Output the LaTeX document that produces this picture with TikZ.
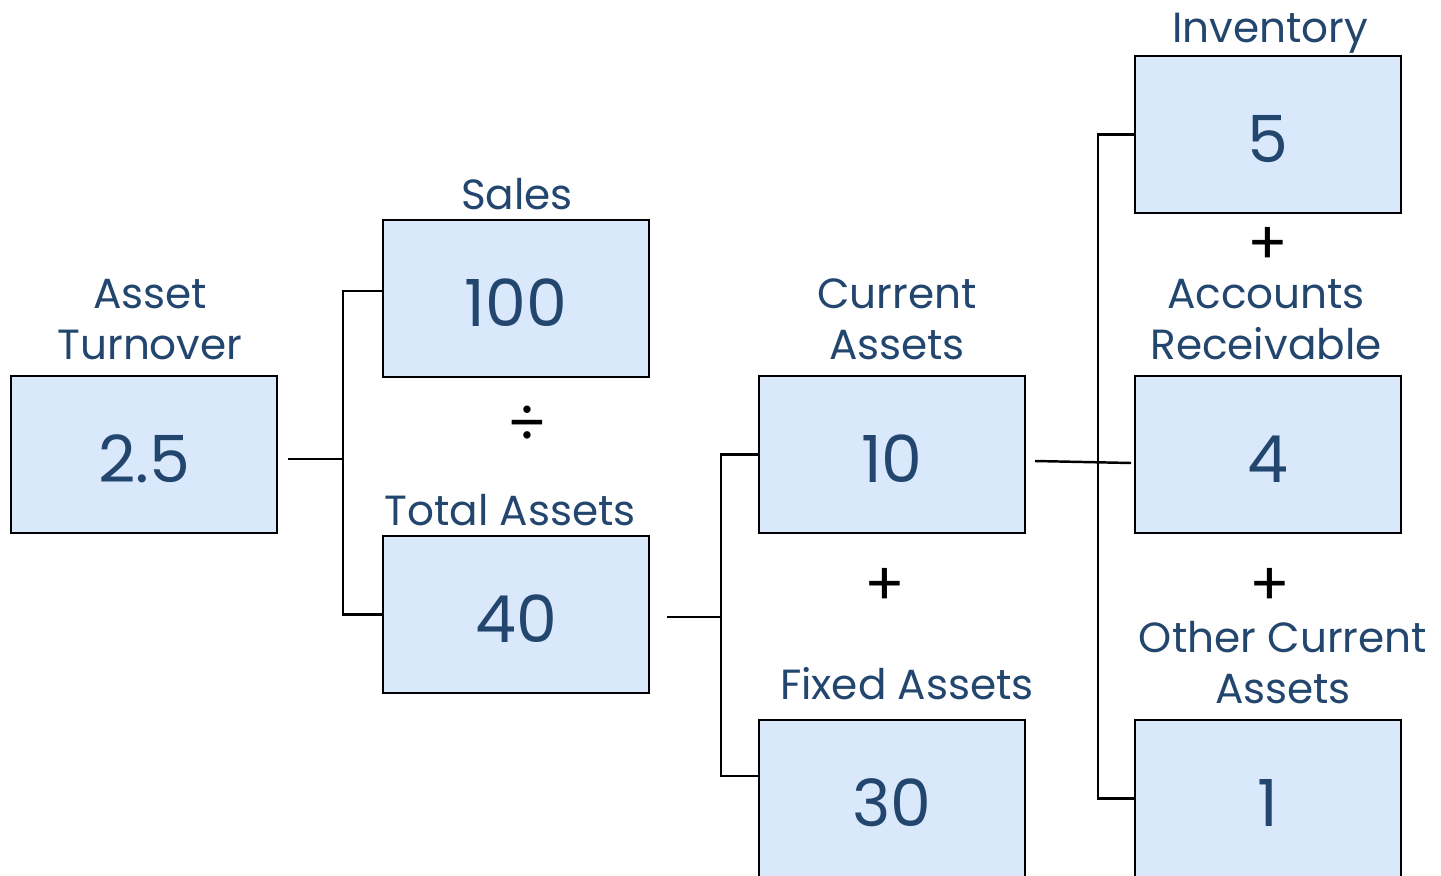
\documentclass[tikz,border=0pt]{standalone}
\usepackage{fontspec}
\setmainfont{Poppins}
\usepackage{tikz}
\usetikzlibrary{positioning,calc}

\definecolor{boxfill}{HTML}{DAE8FC}
\definecolor{navytext}{HTML}{23466E}

\begin{document}
\begin{tikzpicture}[
    x=0.02cm, y=-0.02cm,
    valbox/.style={rectangle, draw, line width=1.6pt, fill=boxfill, minimum width=5.32cm, minimum height=3.14cm, text height=1.12cm, text depth=0cm, text=navytext, font=\fontsize{37}{40}\selectfont},
    title/.style={text=navytext, align=center, anchor=base, inner sep=0pt, font=\fontsize{24}{29}\selectfont},
    oper/.style={inner sep=0pt, font=\fontsize{34}{36}\selectfont},
    link/.style={line width=1.4pt}
]
\clip (0,0) rectangle (1441,876);

% Asset Turnover
\node[valbox] (at) at (144,454.5) {2.5};
\node[title] (at-title) at (150,359) {Asset\\Turnover};

% Sales / Total Assets
\node[valbox] (sales) at (516,298.5) {100};
\node[title] (sales-title) at (517,209) {Sales};
\node[oper] (div) at (527,425) {÷};
\node[valbox] (total) at (516,614.5) {40};
\node[title] (total-title) at (510,525) {Total Assets};

% Current / Fixed Assets
\node[valbox] (cur) at (892,454.5) {10};
\node[title] (cur-title) at (897,359) {Current\\Assets};
\node[oper] (plus1) at (885,587) {+};
\node[valbox] (fixed) at (892,798.5) {30};
\node[title] (fixed-title) at (907,699) {Fixed Assets};

% Inventory / Receivables / Other
\node[valbox] (inv) at (1268,134.5) {5};
\node[title] (inv-title) at (1270,42) {Inventory};
\node[oper] (plus2) at (1268,246) {+};
\node[valbox] (ar) at (1268,454.5) {4};
\node[title] (ar-title) at (1266,359) {Accounts\\Receivable};
\node[oper] (plus3) at (1270,587) {+};
\node[valbox] (oca) at (1268,798.5) {1};
\node[title] (oca-title) at (1283,703) {Other Current\\Assets};

% connectors
\coordinate (at-out) at (288,459);
\coordinate (j1) at (343,459);
\draw[link] (at-out) -- (j1) |- ([yshift=0.15cm]sales.west);
\draw[link] (j1) |- (total.west);

\coordinate (total-out) at (667,617);
\coordinate (j2) at (721,617);
\draw[link] (total-out) -- (j2) |- (cur.west);
\draw[link] (j2) |- ([yshift=0.45cm]fixed.west);

\coordinate (cur-out) at (1035,461);
\coordinate (ar-in) at (1131,463);
\coordinate (j3) at (1098,462);
\draw[link] (cur-out) -- (ar-in);
\draw[link] (inv.west) -| (j3) |- (oca.west);

\end{tikzpicture}
\end{document}
